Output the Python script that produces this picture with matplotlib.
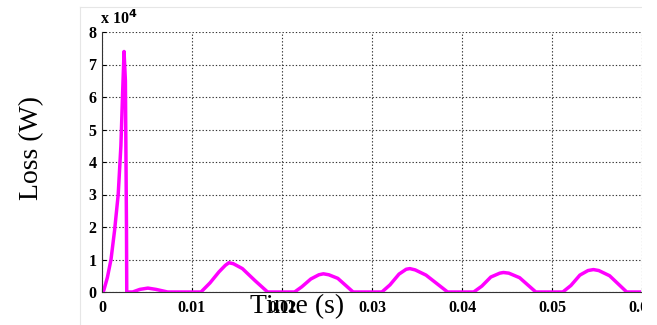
import matplotlib.pyplot as plt
from matplotlib.patches import Rectangle
from matplotlib.lines import Line2D

# time (s) and loss (x 10^4 W)
time = [0.0, 0.0002, 0.0006, 0.0010, 0.0014, 0.0018, 0.0021, 0.0023, 0.00245, 0.0026, 0.00272, 0.00275,
        0.0034, 0.0042, 0.0051, 0.0060, 0.0073, 0.0100,
        0.0110, 0.0120, 0.0130, 0.0137, 0.0141, 0.0146, 0.0156, 0.0170, 0.0184,
        0.0214, 0.0222, 0.0232, 0.0241, 0.0246, 0.0252, 0.0262, 0.0279,
        0.0311, 0.0320, 0.0330, 0.0338, 0.0342, 0.0348, 0.0360, 0.0384,
        0.0413, 0.0422, 0.0432, 0.0442, 0.0446, 0.0452, 0.0464, 0.0482,
        0.0512, 0.0521, 0.0531, 0.0540, 0.0546, 0.0552, 0.0564, 0.0583, 0.0597]
loss = [0.0, 0.05, 0.45, 1.0, 1.9, 3.0, 4.5, 6.2, 7.4, 6.5, 2.0, 0.0,
        0.0, 0.08, 0.12, 0.08, 0.0, 0.0,
        0.0, 0.28, 0.62, 0.82, 0.9, 0.87, 0.72, 0.35, 0.0,
        0.0, 0.16, 0.40, 0.53, 0.56, 0.53, 0.42, 0.0,
        0.0, 0.22, 0.55, 0.70, 0.72, 0.68, 0.52, 0.0,
        0.0, 0.18, 0.46, 0.58, 0.60, 0.58, 0.44, 0.0,
        0.0, 0.20, 0.52, 0.66, 0.69, 0.66, 0.50, 0.0, 0.0]

xticks = [0, 0.01, 0.02, 0.03, 0.04, 0.05, 0.06]
xticklabels = ['0', '0.01', '0.02', '0.03', '0.04', '0.05', '0.06']
yticks = [0, 1, 2, 3, 4, 5, 6, 7, 8]

plt.rcParams['font.family'] = 'Liberation Serif'

fig = plt.figure(figsize=(6.57, 3.25), dpi=100)
ax = fig.add_axes([102/657, 1 - 292/325, 540/657, 260/325])

ax.plot(time, loss, color='#ff00ff', linewidth=2.5, solid_joinstyle='round')
ax.set_xlim(0, 0.06)
ax.set_ylim(0, 8)
ax.set_xticks(xticks)
ax.set_xticklabels(xticklabels)
ax.set_yticks(yticks)
ax.grid(True, color='#333333', linestyle=(0, (1.2, 1.8)), linewidth=0.8)
ax.spines['top'].set_visible(False)
ax.spines['right'].set_visible(False)
ax.spines['left'].set_color('#333333')
ax.spines['bottom'].set_color('#333333')
ax.tick_params(direction='in', length=3, labelsize=11.5)
ax.tick_params(axis='y', pad=4)
ax.tick_params(axis='x', pad=6)
for lab in ax.get_xticklabels() + ax.get_yticklabels():
    lab.set_fontweight('bold')

fig.text(100/657, 1 - 19/325, 'x 10$^{\\mathbf{4}}$', fontsize=11.5, fontweight='bold', va='center')
fig.text(297/657, 1 - 307/325, 'Time (s)', fontsize=20, ha='center', va='center')
fig.text(32/657, 1 - 148/325, 'Loss (W)', fontsize=20, rotation=90, ha='center', va='center')

# cropped right edge and faint frame lines of the original
fig.patches.append(Rectangle((642/657, 0), 15/657, 1, transform=fig.transFigure,
                             facecolor='white', edgecolor='none', zorder=10))
fig.lines.append(Line2D([80/657, 80/657], [0, 1 - 7/325], transform=fig.transFigure, color='#e6e6e6', lw=0.8))
fig.lines.append(Line2D([80/657, 642/657], [1 - 7/325, 1 - 7/325], transform=fig.transFigure, color='#e6e6e6', lw=0.8))

fig.savefig('out.png', dpi=100)
